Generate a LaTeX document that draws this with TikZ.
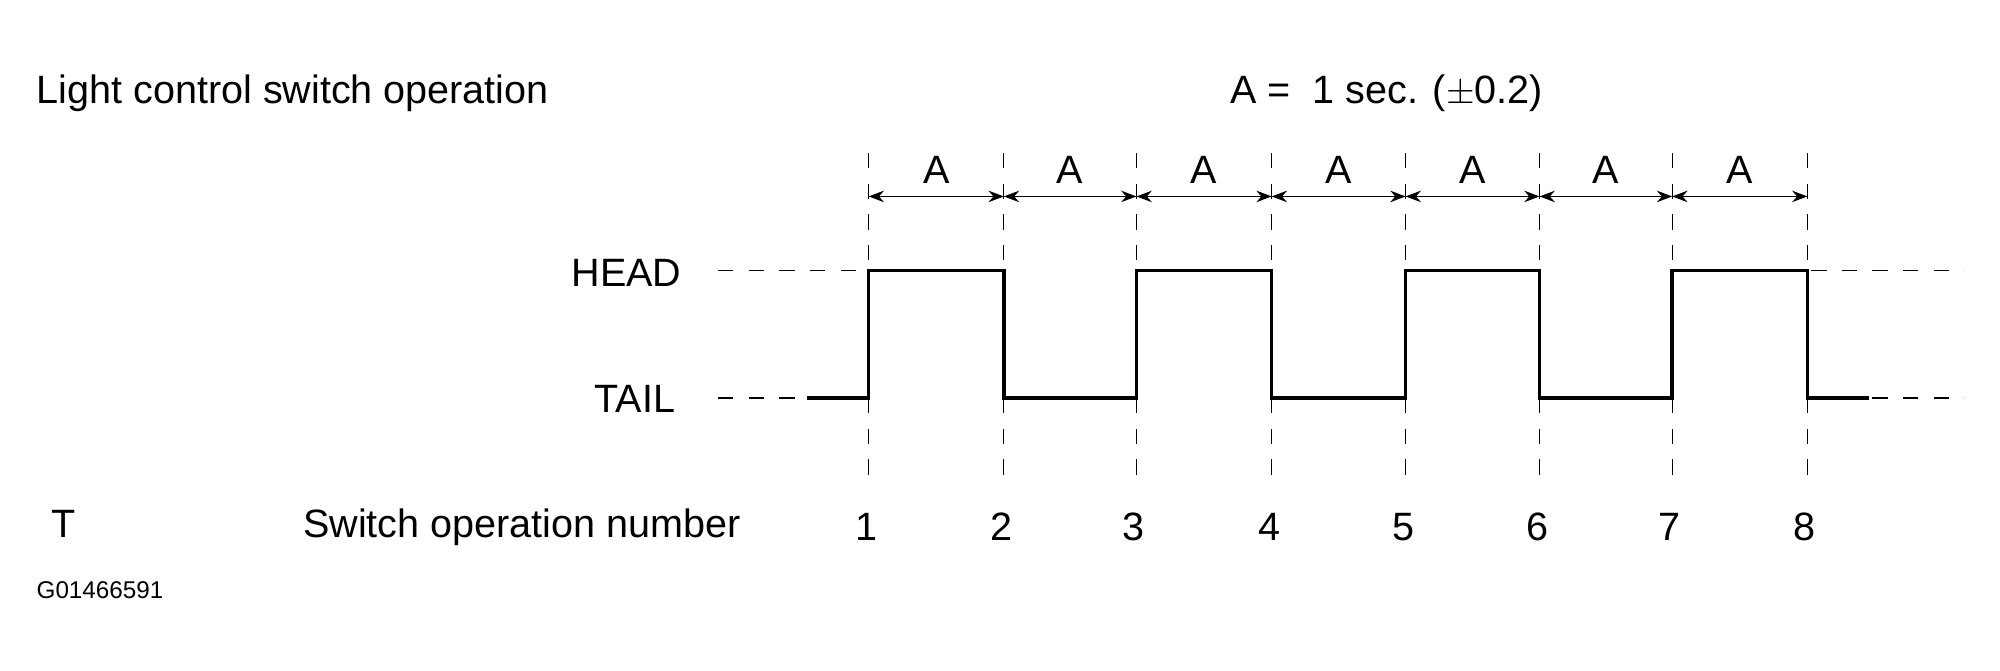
\documentclass[tikz,border=0pt]{standalone}
\usepackage{fontspec}
\setmainfont{Liberation Sans}
\usetikzlibrary{arrows.meta,calc}
\tikzset{every picture/.style={line width=0.75pt}}
\tikzset{
guide/.style={dash pattern={on 6pt off 6pt}, line width=0.5pt},
signal/.style={line width=1.4pt},
span/.style={{Stealth[length=6pt]}-{Stealth[length=6pt]}, line width=0.6pt},
lbl/.style={font=\fontsize{15.5}{18}\selectfont, inner sep=0pt}
}
\begin{document}
\begin{tikzpicture}[x=0.5pt,y=0.5pt,yscale=-1,xscale=1]

\useasboundingbox (0,0) rectangle (1568,526);

% COORDINATES

\def\ticks{681/1,787/2,891/3,997/4,1102/5,1207/6,1311/7,1417/8}
\def\head{212}
\def\tail{312}

% TEXTS

\node [lbl, anchor=west] (title) at (28,73) {Light control switch operation};
\node [lbl] (period) at (1087,73) {A =\ \ 1 sec. ($\pm$0.2)};
\node [lbl, anchor=east] (headlbl) at (535,214) {HEAD};
\node [lbl, anchor=east] (taillbl) at (530,313) {TAIL};
\node [lbl, anchor=west] (numlbl) at (237,413) {Switch operation number};
\node [lbl, anchor=west] (T) at (40,411) {T};
\node [font=\fontsize{9.5}{11}\selectfont, anchor=west, inner sep=0pt] (code) at (28,463) {G01466591};

% GUIDES

\foreach \x/\n in \ticks{
    \coordinate (t\n) at (\x,120);
    \coordinate (b\n) at (\x,372);
    \draw [guide] (t\n) -- (b\n);
    \node [lbl] (n\n) at (\x-2,413) {\n};
}

\draw [guide] (563,\head) -- (681,\head);
\draw [guide] (1420,\head) -- (1540,\head);
\draw [guide] (563,\tail) -- (632,\tail);
\draw [guide] (1468,\tail) -- (1540,\tail);

% SPANS

\foreach \a/\b in {1/2,2/3,3/4,4/5,5/6,6/7,7/8}{
    \draw [span] ($(t\a)+(0,34)$) coordinate (s\a) -- ($(t\b)+(0,34)$);
    \node [lbl] (A\a) at ($(t\a)!0.5!(t\b)+(0,13)$) {A};
}

% SIGNAL

\draw [signal] (633,\tail) -| (681,\head) -| (787,\tail) -| (891,\head)
    -| (997,\tail) -| (1102,\head) -| (1207,\tail) -| (1311,\head)
    -| (1417,\tail) -- (1465,\tail);

\end{tikzpicture}
\end{document}
